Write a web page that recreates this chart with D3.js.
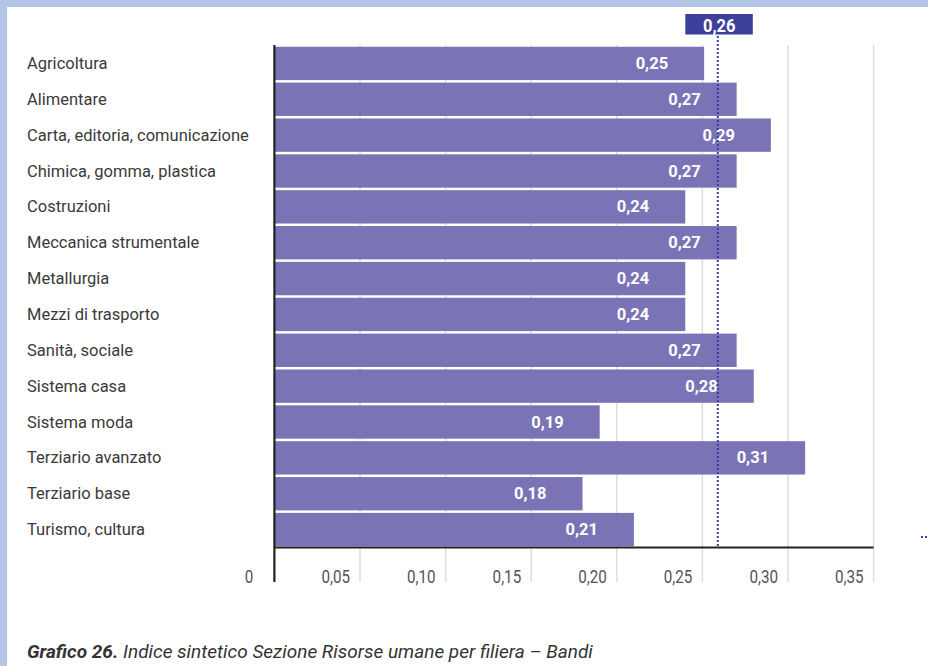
<!DOCTYPE html>
<html><head><meta charset="utf-8">
<script src="https://cdn.jsdelivr.net/npm/d3@7"></script>
<style>
html,body{margin:0;padding:0;background:#fff;}
svg text{font-family:Roboto,"Noto Sans",sans-serif;}
</style></head>
<body>
<svg id="chart" width="928" height="666"></svg>
<script>
const categories = ["Agricoltura","Alimentare","Carta, editoria, comunicazione","Chimica, gomma, plastica","Costruzioni","Meccanica strumentale","Metallurgia","Mezzi di trasporto","Sanità, sociale","Sistema casa","Sistema moda","Terziario avanzato","Terziario base","Turismo, cultura"];
const values = [0.251,0.27,0.29,0.27,0.24,0.27,0.24,0.24,0.27,0.28,0.19,0.31,0.18,0.21];
const valueLabels = ["0,25","0,27","0,29","0,27","0,24","0,27","0,24","0,24","0,27","0,28","0,19","0,31","0,18","0,21"];
const tickValues = [0.05,0.10,0.15,0.20,0.25,0.30,0.35];
const tickLabels = ["0,05","0,10","0,15","0,20","0,25","0,30","0,35"];
const average = 0.259;
const averageLabel = "0,26";
const caption = ["Grafico 26.", " Indice sintetico Sezione Risorse umane per filiera – Bandi"];

const svg = d3.select("#chart");

// background + border
svg.append("rect").attr("width",928).attr("height",666).attr("fill","#b3c6e7");
svg.append("rect").attr("x",7).attr("y",7).attr("width",921).attr("height",659).attr("fill","#fff");

const x = d3.scaleLinear().domain([0,0.35]).range([274.4,873.6]);
const y = d3.scaleBand().domain(categories).range([45.5,547.5]).paddingInner(0.07).paddingOuter(0.035);

// gridlines
svg.append("g").selectAll("line").data(tickValues).join("line")
  .attr("x1",d=>x(d)).attr("x2",d=>x(d)).attr("y1",45).attr("y2",582)
  .attr("stroke","#dcdcdc").attr("stroke-width",1.5);

// bars
svg.append("g").selectAll("rect").data(categories).join("rect")
  .attr("x",x(0)).attr("y",d=>y(d))
  .attr("width",(d,i)=>x(values[i])-x(0)).attr("height",y.bandwidth())
  .attr("fill","#7a73b6");

// value labels
svg.append("g").selectAll("text").data(categories).join("text")
  .attr("transform",(d,i)=>`translate(${x(values[i])-36},${y(d)+y.bandwidth()/2})`)
  .attr("text-anchor","end").attr("dominant-baseline","central")
  .attr("fill","#fff").attr("font-weight","bold").attr("font-size",16.5)
  .text((d,i)=>valueLabels[i]);

// category labels
svg.append("g").selectAll("text").data(categories).join("text")
  .attr("transform",d=>`translate(27,${y(d)+y.bandwidth()/2})`)
  .attr("dominant-baseline","central")
  .attr("fill","#3a3a3a").attr("font-size",16.5)
  .text(d=>d);

// axes lines
svg.append("line").attr("x1",x(0)).attr("x2",x(0.35)).attr("y1",547.5).attr("y2",547.5)
  .attr("stroke","#222").attr("stroke-width",2.2);
svg.append("line").attr("x1",x(0)).attr("x2",x(0)).attr("y1",45).attr("y2",582)
  .attr("stroke","#222").attr("stroke-width",2.2);

// tick labels
svg.append("g").selectAll("text").data(tickValues).join("text")
  .attr("transform",d=>`translate(${x(d)-10},576.5) scale(0.8,1)`)
  .attr("text-anchor","end").attr("dominant-baseline","central")
  .attr("fill","#555").attr("font-size",19)
  .text((d,i)=>tickLabels[i]);
svg.append("text")
  .attr("transform",`translate(${x(0)-21},576.5) scale(0.8,1)`)
  .attr("text-anchor","end").attr("dominant-baseline","central")
  .attr("fill","#555").attr("font-size",19).text("0");

// average line
svg.append("line").attr("x1",x(average)).attr("x2",x(average)).attr("y1",36).attr("y2",547)
  .attr("stroke","#3b3f9f").attr("stroke-width",2).attr("stroke-dasharray","2,2");
svg.append("rect").attr("x",x(average)-32.5).attr("y",14).attr("width",67.5).attr("height",20.5)
  .attr("fill","#3d3f9b");
svg.append("text")
  .attr("transform",`translate(${x(average)+1.5},25) scale(0.87,1)`)
  .attr("text-anchor","middle").attr("dominant-baseline","central")
  .attr("fill","#fff").attr("font-weight","bold").attr("font-size",19).text(averageLabel);

// clipped legend fragment at right edge
svg.append("line").attr("x1",921).attr("x2",928).attr("y1",537).attr("y2",537)
  .attr("stroke","#3b3f9f").attr("stroke-width",2).attr("stroke-dasharray","2,2");

// caption
const cap = svg.append("text")
  .attr("transform",`translate(27,651)`)
  .attr("dominant-baseline","central")
  .attr("fill","#333").attr("font-size",19).attr("font-style","italic");
cap.append("tspan").attr("font-weight","bold").text(caption[0]);
cap.append("tspan").text(caption[1]);
</script>
</body></html>
